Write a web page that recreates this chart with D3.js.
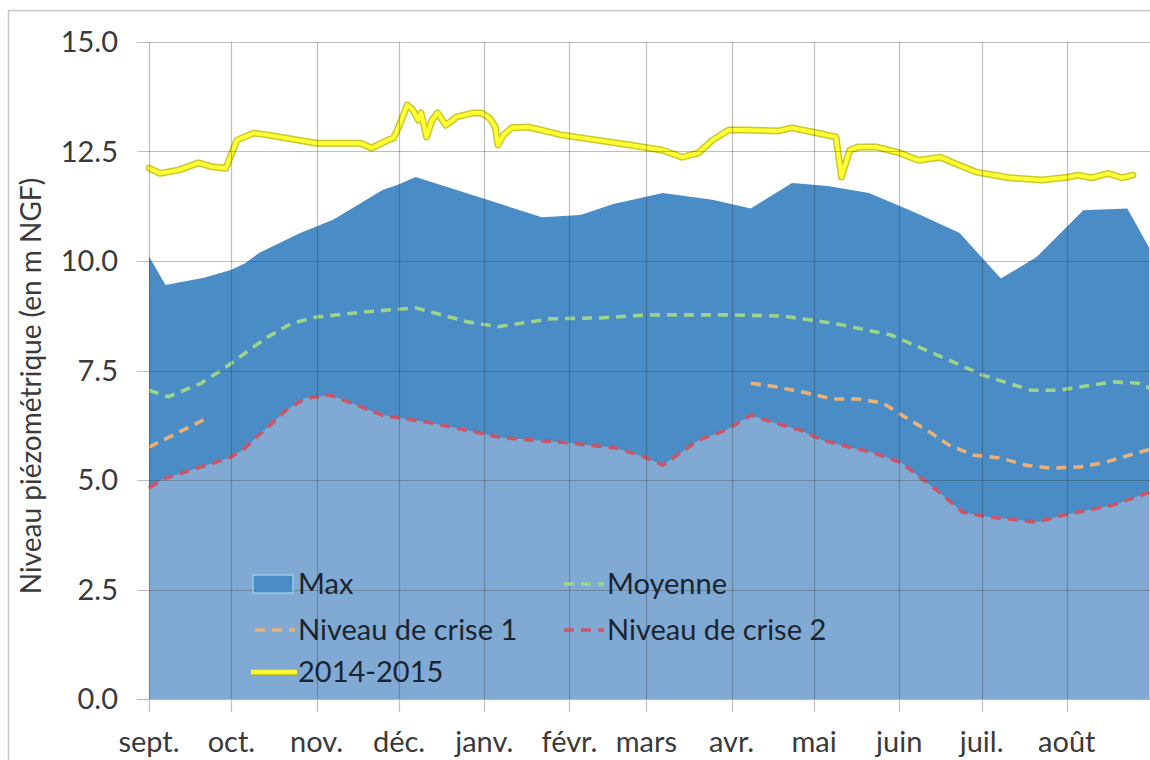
<!DOCTYPE html>
<html lang="fr">
<head>
<meta charset="utf-8">
<script src="https://cdn.jsdelivr.net/npm/d3@7"></script>
<style>
  html, body { margin: 0; padding: 0; background: #fff; }
  svg { display: block; font-family: Lato, "Open Sans", sans-serif; }
</style>
</head>
<body>
<svg id="chart" width="1150" height="760"></svg>
<script>
// Mois de l'année hydrologique (septembre 2014 -> août 2015)
const monthLabels = ["sept.", "oct.", "nov.", "déc.", "janv.", "févr.", "mars", "avr.", "mai", "juin", "juil.", "août"];
const yTicks = [0, 2.5, 5, 7.5, 10, 12.5, 15];

// Niveau maximal historique (m NGF)
const maxNiveau = [
  ["2014-09-01", 10.10], ["2014-09-07", 9.45], ["2014-09-21", 9.62], ["2014-10-01", 9.80],
  ["2014-10-06", 9.95], ["2014-10-11", 10.18], ["2014-10-26", 10.64], ["2014-11-07", 10.94],
  ["2014-11-25", 11.62], ["2014-12-01", 11.75], ["2014-12-07", 11.92], ["2014-12-30", 11.46],
  ["2015-01-22", 11.00], ["2015-02-05", 11.05], ["2015-02-17", 11.30], ["2015-03-07", 11.55],
  ["2015-03-25", 11.40], ["2015-04-08", 11.20], ["2015-04-23", 11.78], ["2015-05-06", 11.71],
  ["2015-05-21", 11.55], ["2015-06-07", 11.10], ["2015-06-23", 10.64], ["2015-07-08", 9.60],
  ["2015-07-21", 10.09], ["2015-08-07", 11.16], ["2015-08-23", 11.20], ["2015-08-31", 10.30]
];

// Niveau minimal historique, confondu avec le niveau de crise 2
const minNiveau = [
  ["2014-09-01", 4.82], ["2014-09-06", 5.02], ["2014-09-30", 5.50], ["2014-10-05", 5.68],
  ["2014-10-21", 6.60], ["2014-10-28", 6.87], ["2014-11-06", 6.94], ["2014-11-25", 6.48],
  ["2014-12-13", 6.30], ["2015-01-07", 5.97], ["2015-01-31", 5.85], ["2015-02-18", 5.73],
  ["2015-02-28", 5.53], ["2015-03-07", 5.34], ["2015-03-20", 5.91], ["2015-03-30", 6.14],
  ["2015-04-08", 6.48], ["2015-04-16", 6.32], ["2015-04-26", 6.14], ["2015-05-04", 5.91],
  ["2015-05-14", 5.75], ["2015-05-22", 5.64], ["2015-06-02", 5.39], ["2015-06-16", 4.70],
  ["2015-06-24", 4.27], ["2015-07-03", 4.16], ["2015-07-21", 4.04], ["2015-07-31", 4.20],
  ["2015-08-18", 4.43], ["2015-08-31", 4.72]
];
const criseNiveau2 = minNiveau;

// Niveau moyen
const moyenne = [
  ["2014-09-01", 7.05], ["2014-09-08", 6.90], ["2014-09-20", 7.21], ["2014-09-29", 7.58],
  ["2014-10-14", 8.26], ["2014-10-23", 8.58], ["2014-11-01", 8.72], ["2014-11-19", 8.84],
  ["2014-12-07", 8.93], ["2014-12-26", 8.61], ["2015-01-06", 8.50], ["2015-01-25", 8.68],
  ["2015-02-12", 8.70], ["2015-03-02", 8.77], ["2015-04-01", 8.77], ["2015-04-20", 8.74],
  ["2015-05-08", 8.58], ["2015-05-29", 8.31], ["2015-06-23", 7.63], ["2015-07-01", 7.40],
  ["2015-07-19", 7.05], ["2015-07-29", 7.05], ["2015-08-18", 7.24], ["2015-08-27", 7.21],
  ["2015-08-31", 7.10]
];

// Niveau de crise 1 (non défini en hiver)
const criseNiveau1 = [
  ["2014-09-01", 5.75], ["2014-09-23", 6.44], ["2015-01-01", null],
  ["2015-04-08", 7.21], ["2015-04-18", 7.12], ["2015-04-28", 6.99], ["2015-05-08", 6.85],
  ["2015-05-17", 6.85], ["2015-05-26", 6.76], ["2015-06-02", 6.48], ["2015-06-12", 6.10],
  ["2015-06-19", 5.80], ["2015-06-28", 5.57], ["2015-07-08", 5.50], ["2015-07-17", 5.34],
  ["2015-07-26", 5.27], ["2015-08-06", 5.30], ["2015-08-14", 5.39], ["2015-08-24", 5.57],
  ["2015-08-31", 5.70]
];

// Chronique observée 2014-2015
const niveau2014 = [
  ["2014-09-01", 12.12], ["2014-09-05", 12.00], ["2014-09-12", 12.08], ["2014-09-19", 12.24],
  ["2014-09-24", 12.15], ["2014-09-29", 12.12], ["2014-10-01", 12.45], ["2014-10-03", 12.76],
  ["2014-10-09", 12.92], ["2014-10-14", 12.88], ["2014-11-01", 12.69], ["2014-11-17", 12.69],
  ["2014-11-21", 12.58], ["2014-11-27", 12.76], ["2014-11-29", 12.81], ["2014-12-01", 13.08],
  ["2014-12-04", 13.56], ["2014-12-06", 13.45], ["2014-12-08", 13.22], ["2014-12-09", 13.38],
  ["2014-12-11", 12.83], ["2014-12-13", 13.22], ["2014-12-15", 13.38], ["2014-12-18", 13.10],
  ["2014-12-22", 13.29], ["2014-12-28", 13.38], ["2014-12-31", 13.38], ["2015-01-03", 13.26],
  ["2015-01-05", 13.06], ["2015-01-06", 12.65], ["2015-01-08", 12.88], ["2015-01-11", 13.04],
  ["2015-01-17", 13.06], ["2015-01-29", 12.88], ["2015-02-11", 12.76], ["2015-02-23", 12.65],
  ["2015-03-07", 12.53], ["2015-03-14", 12.37], ["2015-03-20", 12.47], ["2015-03-25", 12.76],
  ["2015-03-31", 12.99], ["2015-04-06", 12.99], ["2015-04-18", 12.97], ["2015-04-23", 13.04],
  ["2015-04-30", 12.95], ["2015-05-09", 12.83], ["2015-05-11", 11.92], ["2015-05-14", 12.53],
  ["2015-05-17", 12.60], ["2015-05-24", 12.60], ["2015-06-01", 12.47], ["2015-06-08", 12.30],
  ["2015-06-16", 12.37], ["2015-06-20", 12.26], ["2015-06-29", 12.03], ["2015-07-11", 11.90],
  ["2015-07-23", 11.85], ["2015-08-02", 11.92], ["2015-08-05", 11.96], ["2015-08-10", 11.90],
  ["2015-08-16", 12.00], ["2015-08-21", 11.90], ["2015-08-25", 11.96]
];

const parse = d3.utcParse("%Y-%m-%d");
const toPoints = arr => arr.map(([d, v]) => ({ date: parse(d), value: v }));

const svg = d3.select("#chart");
const W = 1150, H = 760;
const plot = { left: 149, right: 1152, top: 42, bottom: 699 };

const x = d3.scaleUtc()
  .domain([parse("2014-09-01"), parse("2015-09-01")])
  .range([plot.left, plot.right]);
const y = d3.scaleLinear().domain([0, 15]).range([plot.bottom, plot.top]);

const colors = {
  max: "#4a8cc6",
  min: "#80aad3",
  moyenne: "#9dd38a",
  crise1: "#e8b07a",
  crise2: "#c9566a",
  obs: "#ffff33",
  obsEdge: "#c9c92a",
  grid: "#3a3a3a",
  text: "#3a3a3a"
};

// Cadre extérieur du graphique
svg.append("rect").attr("x", 0).attr("y", 0).attr("width", W).attr("height", H).attr("fill", "#fff");
svg.append("rect").attr("x", 8.5).attr("y", 10.5).attr("width", W + 20).attr("height", H + 20)
  .attr("fill", "none").attr("stroke", "#c6c6c6").attr("stroke-width", 1.5);

const g = svg.append("g");

// Aires max / min
const area = d3.area().x(d => x(d.date)).y0(y(0)).y1(d => y(d.value));
g.append("path").datum(toPoints(maxNiveau)).attr("d", area).attr("fill", colors.max);
g.append("path").datum(toPoints(minNiveau)).attr("d", area).attr("fill", colors.min);

// Quadrillage
const monthStarts = d3.utcMonths(parse("2014-09-01"), parse("2015-09-01"));
const grid = svg.append("g").attr("stroke", colors.grid).attr("stroke-opacity", 0.33).attr("stroke-width", 1.2);
grid.selectAll("line.h").data(yTicks.filter(v => v > 0)).join("line")
  .attr("x1", plot.left - 12).attr("x2", W)
  .attr("y1", d => Math.round(y(d)) + 0.5).attr("y2", d => Math.round(y(d)) + 0.5);
grid.selectAll("line.v").data(monthStarts).join("line")
  .attr("x1", d => Math.round(x(d)) + 0.5).attr("x2", d => Math.round(x(d)) + 0.5)
  .attr("y1", plot.top).attr("y2", plot.bottom + 13);

// Axe horizontal
svg.append("line").attr("x1", plot.left - 12).attr("x2", W)
  .attr("y1", y(0) + 0.5).attr("y2", y(0) + 0.5)
  .attr("stroke", "#b5b5b5").attr("stroke-width", 1.2);

// Lignes de référence en pointillés
const line = d3.line().defined(d => d.value !== null).x(d => x(d.date)).y(d => y(d.value));
const dashed = (data, color) => g.append("path").datum(toPoints(data)).attr("d", line)
  .attr("fill", "none").attr("stroke", color).attr("stroke-width", 3.6)
  .attr("stroke-dasharray", "10,7").attr("stroke-linecap", "butt");
dashed(moyenne, colors.moyenne);
dashed(criseNiveau1, colors.crise1);
dashed(criseNiveau2, colors.crise2);

// Chronique 2014-2015
const obs = toPoints(niveau2014);
g.append("path").datum(obs).attr("d", line).attr("fill", "none")
  .attr("stroke", colors.obsEdge).attr("stroke-width", 7).attr("stroke-linejoin", "round").attr("stroke-linecap", "round");
g.append("path").datum(obs).attr("d", line).attr("fill", "none")
  .attr("stroke", colors.obs).attr("stroke-width", 4).attr("stroke-linejoin", "round").attr("stroke-linecap", "round");

// Graduations de l'axe vertical
svg.append("g").selectAll("text").data(yTicks).join("text")
  .attr("x", 118).attr("y", d => y(d)).attr("dy", "0.36em")
  .attr("text-anchor", "end").attr("font-size", 29).attr("fill", colors.text)
  .text(d => d3.format(".1f")(d));

// Étiquettes des mois
svg.append("g").selectAll("text").data(monthStarts).join("text")
  .attr("x", d => x(d)).attr("y", 752)
  .attr("text-anchor", "middle").attr("font-size", 29).attr("fill", colors.text)
  .text((d, i) => monthLabels[i]);

// Titre de l'axe vertical
svg.append("text")
  .attr("transform", `translate(41, 386) rotate(-90)`)
  .attr("text-anchor", "middle").attr("font-size", 28).attr("fill", colors.text)
  .text("Niveau piézométrique  (en m NGF)");

// Légende
const legendItems = [
  { label: "Max", type: "area", color: colors.max, col: 0, row: 0 },
  { label: "Moyenne", type: "dash", color: colors.moyenne, col: 1, row: 0 },
  { label: "Niveau de crise 1", type: "dash", color: colors.crise1, col: 0, row: 1 },
  { label: "Niveau de crise 2", type: "dash", color: colors.crise2, col: 1, row: 1 },
  { label: "2014-2015", type: "solid", color: colors.obs, col: 0, row: 2 }
];
const legend = svg.append("g");
const colX = [253, 562], rowY = [584, 630, 672];
legendItems.forEach(it => {
  const lx = colX[it.col], ly = rowY[it.row];
  if (it.type === "area") {
    legend.append("rect").attr("x", lx).attr("y", ly - 9).attr("width", 40).attr("height", 18)
      .attr("fill", it.color).attr("stroke", "#a9d3f2").attr("stroke-width", 1.2);
  } else if (it.type === "dash") {
    legend.append("line").attr("x1", lx + 2).attr("x2", lx + 42).attr("y1", ly).attr("y2", ly)
      .attr("stroke", it.color).attr("stroke-width", 3.6).attr("stroke-dasharray", "10,7");
  } else {
    legend.append("line").attr("x1", lx - 2).attr("x2", lx + 44).attr("y1", ly).attr("y2", ly)
      .attr("stroke", colors.obsEdge).attr("stroke-width", 6);
    legend.append("line").attr("x1", lx - 2).attr("x2", lx + 44).attr("y1", ly).attr("y2", ly)
      .attr("stroke", it.color).attr("stroke-width", 3.4);
  }
  legend.append("text").attr("x", lx + 45).attr("y", ly).attr("dy", "0.36em")
    .attr("font-size", 29).attr("fill", "#1b2530").text(it.label);
});
</script>
</body>
</html>
